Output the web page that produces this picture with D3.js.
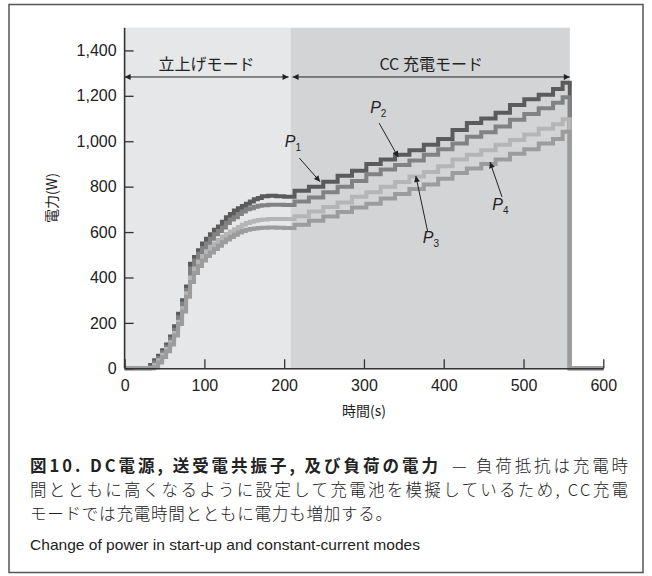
<!doctype html>
<html>
<head>
<meta charset="utf-8">
<script src="https://d3js.org/d3.v7.min.js"></script>
<style>
    body { margin: 0; background: #fff; }
    text { font-family: "Liberation Sans", Arial, sans-serif; fill: #222; }
    .jp { font-family: "Noto Sans CJK JP", sans-serif; }
</style>
</head>
<body>
<svg width="652" height="576"></svg>
<script>
    // time (s) of each step, shared by the four power traces
    var time = [0, 27, 32, 37, 42, 47, 52, 57, 62, 67, 72, 77, 82, 87, 92, 97, 102, 107, 112, 117,
                122, 127, 132, 137, 142, 147, 152, 157, 162, 167, 172, 180, 190, 200, 210,
                213, 231, 249, 267, 285, 303, 321, 339, 357, 375, 393, 411, 429, 447, 465, 483,
                501, 519, 537, 549, 557, 558, 600];

    var p1 = [0, 0, 15, 35, 55, 80, 105, 140, 185, 240, 300, 360, 460, 490, 520, 550, 570, 590, 610, 625,
              645, 665, 680, 695, 705, 715, 725, 735, 745, 750, 758, 760, 758, 755, 756,
              782, 800, 822, 848, 870, 900, 920, 940, 960, 985, 1010, 1050, 1080, 1100, 1125, 1160,
              1185, 1205, 1230, 1258, 1258, 0, 0];
    var p2 = [0, 0, 5, 25, 45, 70, 95, 130, 170, 225, 285, 345, 440, 475, 505, 530, 550, 570, 590, 605,
              620, 640, 655, 665, 680, 690, 700, 705, 712, 716, 718, 720, 720, 719, 719,
              735, 752, 775, 800, 825, 855, 875, 895, 915, 940, 965, 990, 1020, 1040, 1065, 1095,
              1120, 1145, 1170, 1194, 1194, 0, 0];
    var p3 = [0, 0, 0, 15, 35, 60, 85, 115, 155, 205, 265, 330, 400, 440, 470, 495, 515, 535, 550, 565,
              580, 592, 603, 612, 622, 632, 640, 645, 650, 653, 655, 657, 657, 657, 657,
              670, 690, 710, 730, 755, 775, 800, 820, 845, 865, 890, 920, 940, 960, 985, 1005,
              1030, 1055, 1075, 1097, 1097, 0, 0];
    var p4 = [0, 0, 0, 5, 25, 50, 75, 105, 145, 195, 250, 315, 380, 420, 450, 475, 495, 510, 525, 540,
              555, 567, 578, 588, 598, 605, 610, 613, 616, 618, 619, 620, 619, 618, 618,
              632, 650, 668, 688, 708, 725, 748, 768, 790, 810, 835, 860, 880, 900, 920, 945,
              965, 990, 1010, 1042, 1042, 0, 0];

    var seriesNames = ["P1", "P2", "P3", "P4"];
    var seriesValues = [p1, p2, p3, p4];
    var seriesColors = ["#5b5b5b", "#828282", "#b5b5b5", "#9c9c9c"];

    var xTicks = [0, 100, 200, 300, 400, 500, 600];
    var yTicks = [0, 200, 400, 600, 800, 1000, 1200, 1400];

    // mode boundaries (s): start-up 0-208, CC charging 208-558
    var modeEdges = [0, 208, 558];
    var modeNames = ["立上げモード", "CC 充電モード"];
    var modeFills = ["#e6e7e9", "#d3d4d6"];

    // label anchor [t, W], arrow tail [t, W], arrow head [t, W]
    var labelPos = [[211, 974], [318, 1124], [384, 552], [471, 697]];
    var arrowFrom = [[219, 926], [319, 1080], [380, 600], [473, 755]];
    var arrowTo = [[245, 822], [343, 930], [365, 847], [458, 908]];

    var svg = d3.select("svg");

    var x = d3.scaleLinear().domain([0, 600]).range([124.6, 603.3]),
        y = d3.scaleLinear().domain([0, 1500]).range([368.3, 27.7]);

    // outer frame
    svg.append("rect")
       .attr("x", 9).attr("y", 4.5)
       .attr("width", 634).attr("height", 568)
       .attr("fill", "none").attr("stroke", "#555").attr("stroke-width", 1.5);

    svg.append("defs").append("marker")
       .attr("id", "head")
       .attr("viewBox", "0 0 10 10")
       .attr("refX", 10).attr("refY", 5)
       .attr("markerWidth", 9).attr("markerHeight", 6)
       .attr("markerUnits", "userSpaceOnUse")
       .attr("orient", "auto-start-reverse")
       .append("path").attr("d", "M0,0L10,5L0,10z").attr("fill", "#222");

    // mode backgrounds
    svg.selectAll(".mode")
       .data(modeFills)
       .enter().append("rect")
       .attr("x", function(d, i) { return x(modeEdges[i]); })
       .attr("y", y(1500))
       .attr("width", function(d, i) { return x(modeEdges[i + 1]) - x(modeEdges[i]); })
       .attr("height", y(0) - y(1500))
       .attr("fill", function(d) { return d; });

    // mode arrows and names
    modeNames.forEach(function(name, i) {
        var x0 = x(modeEdges[i]) + (i ? 2 : 0),
            x1 = x(modeEdges[i + 1]) - (i ? 0 : 2);
        svg.append("line")
           .attr("x1", x0).attr("x2", x1)
           .attr("y1", y(1283)).attr("y2", y(1283))
           .attr("stroke", "#222").attr("stroke-width", 1)
           .attr("marker-start", "url(#head)")
           .attr("marker-end", "url(#head)");
        svg.append("text")
           .attr("class", "jp")
           .attr("x", (x0 + x1) / 2)
           .attr("y", y(1283) - 7)
           .attr("text-anchor", "middle")
           .attr("font-size", "16px")
           .text(name);
    });

    // power traces
    var line = d3.line()
        .x(function(d) { return x(d[0]); })
        .y(function(d) { return y(d[1]); })
        .curve(d3.curveStepAfter);

    svg.selectAll(".trace")
       .data(seriesValues)
       .enter().append("path")
       .attr("class", "trace")
       .attr("d", function(v) { return line(d3.zip(time, v)); })
       .attr("fill", "none")
       .attr("stroke", function(v, i) { return seriesColors[i]; })
       .attr("stroke-width", 4);

    // axes
    var xAxis = svg.append("g")
        .attr("transform", "translate(0," + y(0) + ")")
        .call(d3.axisBottom(x).tickValues(xTicks).tickSizeInner(-9).tickSizeOuter(0).tickPadding(11));
    var yAxis = svg.append("g")
        .attr("transform", "translate(" + x(0) + ",0)")
        .call(d3.axisLeft(y).tickValues(yTicks).tickFormat(d3.format(",")).tickSizeInner(-9).tickSizeOuter(0).tickPadding(8));

    [xAxis, yAxis].forEach(function(g) {
        g.select(".domain").attr("stroke", "#333").attr("stroke-width", 1.6);
        g.selectAll(".tick line").attr("stroke", "#333").attr("stroke-width", 1.3);
        g.selectAll(".tick text").attr("font-size", "16px").attr("fill", "#222")
         .attr("font-family", "Liberation Sans, Arial, sans-serif");
    });
    yAxis.select(".domain").attr("d", "M0," + y(1500) + "V" + y(0));

    // annotation arrows and labels
    seriesNames.forEach(function(name, i) {
        svg.append("line")
           .attr("x1", x(arrowFrom[i][0])).attr("y1", y(arrowFrom[i][1]))
           .attr("x2", x(arrowTo[i][0])).attr("y2", y(arrowTo[i][1]))
           .attr("stroke", "#222").attr("stroke-width", 1)
           .attr("marker-end", "url(#head)");
        var t = svg.append("text")
           .attr("x", x(labelPos[i][0]))
           .attr("y", y(labelPos[i][1]))
           .attr("text-anchor", "middle")
           .attr("font-size", "16px")
           .attr("font-style", "italic");
        t.append("tspan").text("P");
        t.append("tspan").attr("font-size", "10px").attr("font-style", "normal")
         .attr("dy", 4).text(name.slice(1));
    });

    // axis titles
    svg.append("text")
       .attr("class", "jp")
       .attr("x", (x(0) + x(600)) / 2)
       .attr("y", 416)
       .attr("text-anchor", "middle")
       .attr("font-size", "14px")
       .text("時間(s)");
    svg.append("text")
       .attr("class", "jp")
       .attr("transform", "translate(57," + (y(0) + y(1500)) / 2 + ") rotate(-90)")
       .attr("text-anchor", "middle")
       .attr("font-size", "14px")
       .text("電力(W)");

    // caption
    svg.append("text").attr("class", "jp").attr("x", 30).attr("y", 472)
       .attr("font-size", "16.5px").attr("font-weight", "bold")
       .attr("textLength", 408).attr("lengthAdjust", "spacing")
       .text("図10. DC電源, 送受電共振子, 及び負荷の電力");
    svg.append("text").attr("class", "jp").attr("x", 452).attr("y", 472)
       .attr("font-size", "16.5px").attr("font-weight", 300)
       .attr("textLength", 176).attr("lengthAdjust", "spacing")
       .text("— 負荷抵抗は充電時");
    svg.append("text").attr("class", "jp").attr("x", 30).attr("y", 496)
       .attr("font-size", "16.5px").attr("font-weight", 300)
       .attr("textLength", 598).attr("lengthAdjust", "spacing")
       .text("間とともに高くなるように設定して充電池を模擬しているため, CC充電");
    svg.append("text").attr("class", "jp").attr("x", 30).attr("y", 520)
       .attr("font-size", "16.5px").attr("font-weight", 300)
       .attr("textLength", 362).attr("lengthAdjust", "spacing")
       .text("モードでは充電時間とともに電力も増加する。");
    svg.append("text").attr("x", 30).attr("y", 550)
       .attr("font-size", "15px")
       .attr("font-family", "Liberation Sans Narrow, Liberation Sans, sans-serif")
       .attr("textLength", 390).attr("lengthAdjust", "spacingAndGlyphs")
       .text("Change of power in start-up and constant-current modes");
</script>
</body>
</html>
